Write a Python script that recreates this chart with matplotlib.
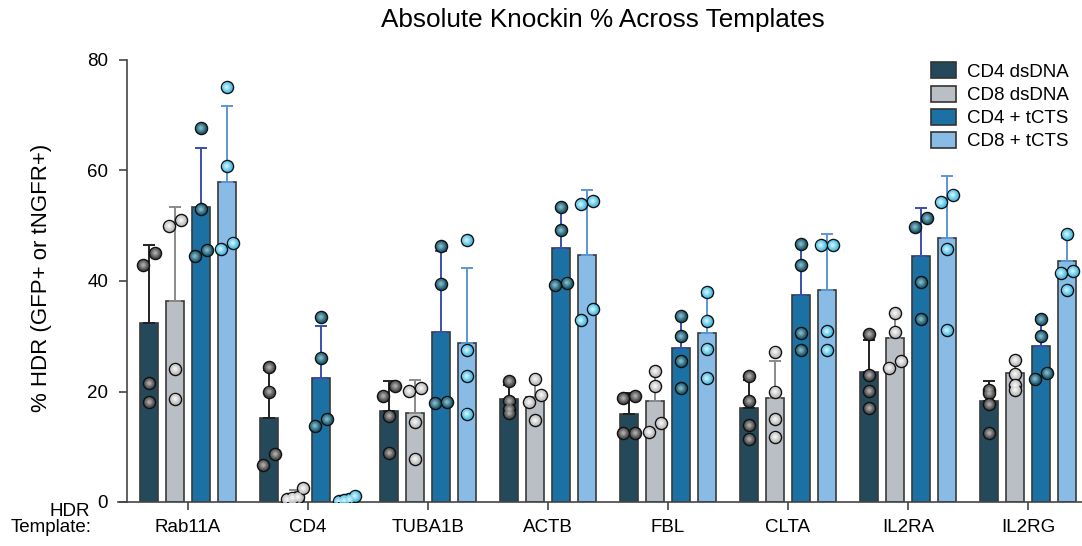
import numpy as np
import matplotlib.pyplot as plt
from matplotlib.patches import Patch
from matplotlib.colors import to_rgb

plt.rcParams['font.family'] = ['Liberation Sans', 'DejaVu Sans']

# values
templates = ["Rab11A", "CD4", "TUBA1B", "ACTB", "FBL", "CLTA", "IL2RA", "IL2RG"]
series_names = ["CD4 dsDNA", "CD8 dsDNA", "CD4 + tCTS", "CD8 + tCTS"]

# bar heights (mean % HDR)
mean_cd4_dsdna = [32.4, 15.2, 16.5, 18.6, 16.0, 17.0, 23.5, 18.3]
mean_cd8_dsdna = [36.4, 1.2, 16.1, 19.0, 18.3, 18.8, 29.7, 23.3]
mean_cd4_tcts = [53.4, 22.4, 30.8, 46.0, 27.9, 37.5, 44.5, 28.2]
mean_cd8_tcts = [57.9, 0.5, 28.8, 44.7, 30.6, 38.4, 47.8, 43.6]

# individual donors (4 per condition)
cd4_dsdna = [[42.9, 45.1, 21.5, 18.1], [24.4, 20.0, 8.7, 6.7], [19.2, 21.0, 15.6, 8.9],
             [21.9, 18.3, 16.8, 16.1], [19.2, 18.8, 12.5, 12.5], [22.8, 18.3, 13.9, 11.4],
             [30.4, 23.0, 20.1, 17.0], [20.3, 19.7, 17.7, 12.5]]
cd8_dsdna = [[50.0, 51.0, 24.1, 18.7], [0.9, 0.5, 0.8, 2.5], [20.1, 20.6, 14.5, 7.8],
             [19.4, 22.3, 18.1, 14.8], [23.7, 21.0, 12.7, 14.3], [27.2, 20.0, 15.0, 11.8],
             [34.2, 30.8, 24.3, 25.5], [25.7, 23.2, 21.2, 20.3]]
cd4_tcts = [[67.7, 53.0, 44.5, 45.6], [33.5, 26.1, 13.8, 15.0], [46.3, 39.5, 17.9, 18.1],
            [53.4, 49.2, 39.3, 39.7], [33.7, 30.0, 25.5, 20.6], [46.7, 42.9, 30.6, 27.5],
            [49.8, 51.4, 39.8, 33.1], [33.1, 30.0, 22.3, 23.4]]
cd8_tcts = [[75.1, 60.8, 45.8, 46.9], [0.5, 0.1, 0.3, 1.1], [47.4, 27.5, 22.8, 16.0],
            [54.5, 53.9, 32.9, 34.9], [38.0, 32.8, 27.7, 22.4], [46.5, 46.5, 30.9, 27.5],
            [54.3, 55.6, 45.8, 31.1], [48.5, 41.8, 41.5, 38.4]]

all_means = [mean_cd4_dsdna, mean_cd8_dsdna, mean_cd4_tcts, mean_cd8_tcts]
all_points = [cd4_dsdna, cd8_dsdna, cd4_tcts, cd8_tcts]

# styling
bar_colors = ["#23495a", "#babfc5", "#1b71a3", "#88bce6"]
err_colors = ["#222222", "#8a8a8a", "#3a4fae", "#5b95d6"]
dot_base = ["#4a4a4a", "#bdbdbd", "#1f5e72", "#4fc0e6"]
dot_hi = ["#a8a8a8", "#f2f2f2", "#7fb3c2", "#c6eefb"]

fig = plt.figure(figsize=(10.82, 5.46), dpi=100)
ax = fig.add_axes([118 / 1082, 44 / 546, 964 / 1082, 442 / 546])

n_groups = len(templates)
x = np.arange(n_groups)
step = 0.215
width = 0.15
ypx = 442 / 80.0      # pixels per y unit
xpx = 120.0           # pixels per x unit
dot_d = 12.0          # marker diameter px


def swarm_offsets(vals):
    # spread points that would overlap vertically
    order = np.argsort(vals)
    offs = np.zeros(len(vals))
    clusters = [[order[0]]]
    for i in order[1:]:
        prev = clusters[-1][-1]
        if (vals[i] - vals[prev]) * ypx < 13:
            clusters[-1].append(i)
        else:
            clusters.append([i])
    for c in clusters:
        n = len(c)
        if n == 1:
            continue
        if n == 2:
            sp = dot_d
        elif (vals[c[-1]] - vals[c[0]]) < 2.1:
            sp = dot_d * 0.45
        else:
            continue   # loose stack, leave in a column
        for k, idx in enumerate(c):
            offs[idx] = (k - (n - 1) / 2) * sp / xpx
    return offs


for s in range(4):
    pos = x + (s - 1.5) * step
    arr = np.array(all_points[s])
    means = np.array(all_means[s])
    sds = arr.std(axis=1, ddof=1)
    ax.bar(pos, means, width, color=bar_colors[s], edgecolor="#3a3a3a",
           linewidth=1.2, zorder=2, label=series_names[s])
    ax.errorbar(pos, means, yerr=[np.zeros_like(sds), sds], fmt="none",
                ecolor=err_colors[s], elinewidth=1.4, capsize=4.5, capthick=1.4, zorder=3)
    # shaded "sphere" dots
    px_, py_ = [], []
    for g in range(n_groups):
        vals = arr[g]
        offs = swarm_offsets(vals)
        px_.extend(pos[g] + offs)
        py_.extend(vals)
    base = np.array(to_rgb(dot_base[s]))
    hi = np.array(to_rgb(dot_hi[s]))
    ax.scatter(px_, py_, s=76, color=base, edgecolors="#111111", linewidths=1.0, zorder=5)
    for k, frac in enumerate([0.75, 0.5, 0.28]):
        t = (k + 1) / 3.0
        ax.scatter(px_, py_, s=76 * frac ** 2, color=base * (1 - t) + hi * t,
                   edgecolors="none", zorder=6 + k)

ax.set_xlim(-0.583, 7.45)
ax.set_ylim(0, 80)
ax.spines["top"].set_visible(False)
ax.spines["right"].set_visible(False)
ax.spines["left"].set_position(("data", -0.504))
ax.spines["left"].set_bounds(0, 80)
for sp in ["left", "bottom"]:
    ax.spines[sp].set_color("#444444")
    ax.spines[sp].set_linewidth(1.2)

ax.set_yticks([0, 20, 40, 60, 80])
ax.set_xticks(x)
ax.set_xticklabels(templates)
ax.tick_params(axis="both", labelsize=13.5, length=6, width=1.2, color="#444444")
ax.tick_params(axis="x", pad=6)
ax.tick_params(axis="y", pad=8)

fig.text(42 / 1082, 1 - 278 / 546, "% HDR (GFP+ or tNGFR+)", rotation=90,
         ha="center", va="center", fontsize=16)
fig.text(603 / 1082, 1 - 20 / 546, "Absolute Knockin % Across Templates",
         ha="center", va="center", fontsize=18.8)

fig.text(90 / 1082, 1 - 511 / 546, "HDR", ha="right", va="center", fontsize=13.5)
fig.text(92 / 1082, 1 - 527 / 546, "Template:", ha="right", va="center", fontsize=13.5)

handles = [Patch(facecolor=bar_colors[i], edgecolor="#333333", linewidth=1.2)
           for i in range(4)]
ax.legend(handles, series_names, loc="upper right", bbox_to_anchor=(1.004, 1.033),
          frameon=False, fontsize=13.5, handlelength=1.3, handleheight=0.95,
          labelspacing=0.25, handletextpad=0.6)

fig.savefig("out.png", dpi=100)
